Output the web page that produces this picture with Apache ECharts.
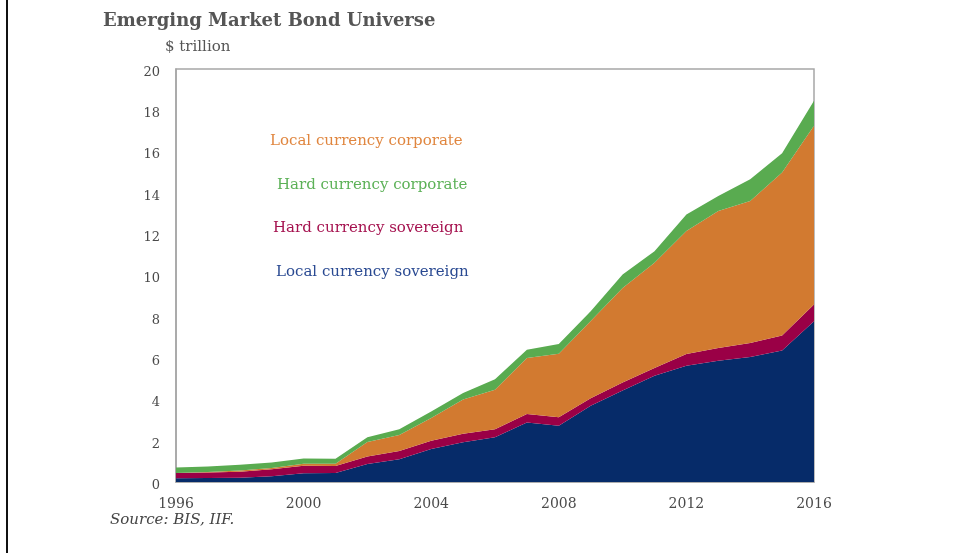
<!DOCTYPE html>
<html>
<head>
<meta charset="utf-8">
<title>Emerging Market Bond Universe</title>
<script src="https://cdn.jsdelivr.net/npm/echarts@6/dist/echarts.min.js"></script>
<style>
  html, body { margin: 0; padding: 0; background: #ffffff; }
  #chart { width: 953px; height: 553px; }
</style>
</head>
<body>
<div id="chart"></div>
<script>
// Years on the horizontal axis
var years = ['1996','1997','1998','1999','2000','2001','2002','2003','2004','2005','2006',
             '2007','2008','2009','2010','2011','2012','2013','2014','2015','2016'];

// Outstanding bonds, $ trillion, by segment (stacked bottom to top)
var localSovereign = [0.18,0.19,0.21,0.28,0.42,0.44,0.87,1.10,1.60,1.93,2.17,
                      2.88,2.72,3.69,4.43,5.15,5.63,5.87,6.05,6.37,7.78];
var hardSovereign  = [0.26,0.27,0.29,0.34,0.37,0.34,0.36,0.40,0.40,0.41,0.39,
                      0.41,0.42,0.37,0.39,0.37,0.57,0.62,0.68,0.72,0.81];
var localCorporate = [0.00,0.03,0.06,0.06,0.09,0.10,0.71,0.78,1.10,1.65,1.91,
                      2.71,3.07,3.74,4.58,5.10,5.95,6.63,6.88,7.90,8.66];
var hardCorporate  = [0.26,0.26,0.28,0.26,0.26,0.24,0.23,0.27,0.32,0.32,0.50,
                      0.41,0.47,0.47,0.65,0.56,0.81,0.73,1.05,0.93,1.21];

var yTicks = [0,2,4,6,8,10,12,14,16,18,20];

var colors = {
  localSovereign: '#062b69',
  hardSovereign:  '#9a0046',
  localCorporate: '#d27a30',
  hardCorporate:  '#59ab50'
};

var serif = '"DejaVu Serif", "Liberation Serif", serif';

function areaSeries(name, data, color) {
  return {
    name: name,
    type: 'line',
    stack: 'total',
    data: data,
    symbol: 'none',
    smooth: false,
    lineStyle: { width: 0 },
    areaStyle: { color: color, opacity: 1 },
    itemStyle: { color: color },
    emphasis: { disabled: true }
  };
}

var chart = echarts.init(document.getElementById('chart'), null, { renderer: 'canvas' });

chart.setOption({
  backgroundColor: '#ffffff',
  animation: false,
  grid: {
    left: 176, right: 139, top: 69, bottom: 71,
    show: true,
    borderColor: '#a6a6a6',
    borderWidth: 1.5,
    backgroundColor: 'transparent'
  },
  xAxis: {
    type: 'category',
    data: years,
    boundaryGap: false,
    axisLine: { show: true, lineStyle: { color: '#a6a6a6', width: 1.5 } },
    axisTick: { show: false },
    axisLabel: {
      interval: 3,
      margin: 15,
      color: '#4a4a4a',
      fontFamily: serif,
      fontSize: 14
    },
    splitLine: { show: false }
  },
  yAxis: {
    type: 'value',
    min: yTicks[0],
    max: yTicks[yTicks.length - 1],
    interval: 2,
    axisLine: { show: true, lineStyle: { color: '#a6a6a6', width: 1.5 } },
    axisTick: { show: false },
    axisLabel: {
      margin: 16,
      color: '#4a4a4a',
      fontFamily: serif,
      fontSize: 13,
      verticalAlign: 'top',
      lineHeight: 7
    },
    splitLine: { show: false }
  },
  series: [
    areaSeries('Local currency sovereign', localSovereign, colors.localSovereign),
    areaSeries('Hard currency sovereign', hardSovereign, colors.hardSovereign),
    areaSeries('Local currency corporate', localCorporate, colors.localCorporate),
    areaSeries('Hard currency corporate', hardCorporate, colors.hardCorporate)
  ],
  graphic: [
    // frame rule on the left edge of the page
    { type: 'rect', left: 6, top: 0, shape: { width: 2, height: 553 }, style: { fill: '#111111' } },
    { type: 'text', left: 103, top: 12,
      style: { text: 'Emerging Market Bond Universe', fill: '#555555',
               font: 'bold 18px ' + serif } },
    { type: 'text', left: 165, top: 40,
      style: { text: '$ trillion', fill: '#555555', font: '15px ' + serif } },
    { type: 'text', left: 110, top: 513,
      style: { text: 'Source: BIS, IIF.', fill: '#444444', font: 'italic 15px ' + serif } },
    // series labels inside the plot
    { type: 'text', left: 270, top: 134,
      style: { text: 'Local currency corporate', fill: '#e0863f', font: '15px ' + serif } },
    { type: 'text', left: 277, top: 178,
      style: { text: 'Hard currency corporate', fill: '#5cb157', font: '15px ' + serif } },
    { type: 'text', left: 273, top: 221,
      style: { text: 'Hard currency sovereign', fill: '#a5124f', font: '15px ' + serif } },
    { type: 'text', left: 276, top: 265,
      style: { text: 'Local currency sovereign', fill: '#2a4a92', font: '15px ' + serif } }
  ]
});
</script>
</body>
</html>
